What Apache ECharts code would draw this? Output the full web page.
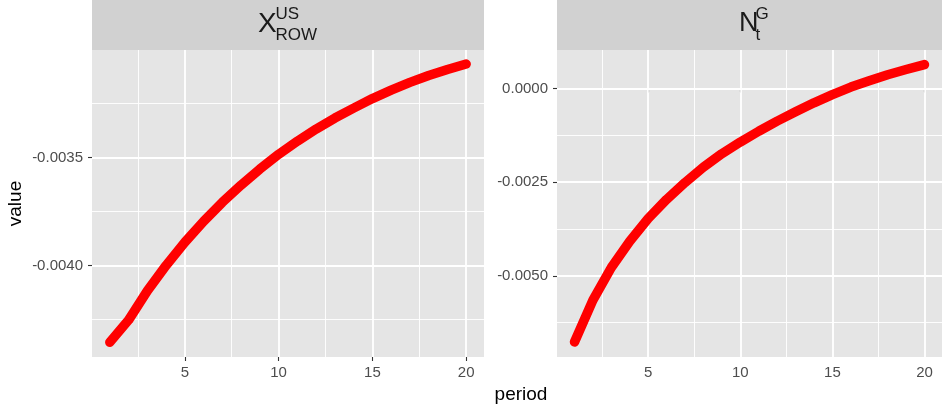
<!DOCTYPE html>
<html>
<head>
<meta charset="utf-8">
<script src="https://cdn.jsdelivr.net/npm/echarts@6/dist/echarts.min.js"></script>
<style>
  html, body { margin: 0; padding: 0; background: #ffffff; }
  #chart { width: 942px; height: 414px; }
</style>
</head>
<body>
<div id="chart"></div>
<script>
// Impulse responses by period, one facet per variable
const periods = [1, 2, 3, 4, 5, 6, 7, 8, 9, 10, 11, 12, 13, 14, 15, 16, 17, 18, 19, 20];

const xRowValues = [
  -0.004356, -0.004253, -0.004118, -0.004000, -0.003893,
  -0.003796, -0.003708, -0.003628, -0.003554, -0.003486,
  -0.003425, -0.003369, -0.003318, -0.003272, -0.003228,
  -0.003189, -0.003153, -0.003121, -0.003093, -0.003068
];

const nGValues = [
  -0.00677, -0.00565, -0.00478, -0.00408, -0.00347,
  -0.00296, -0.00251, -0.00210, -0.00174, -0.00143,
  -0.00114, -0.00087, -0.00062, -0.00038, -0.00016,
   0.00004,  0.00021,  0.00037,  0.00051,  0.00064
];

// Shared period axis
const periodRange = [0.05, 20.95];
const periodTicks = [5, 10, 15, 20];
const periodMinor = [2.5, 7.5, 12.5, 17.5];

// Value axes, one per facet
const xRowRange = [-0.004424, -0.003003];
const xRowTicks = [-0.0040, -0.0035];
const xRowMinor = [-0.00425, -0.00375, -0.00325];

const nGRange = [-0.00717, 0.00103];
const nGTicks = [-0.0050, -0.0025, 0];
const nGMinor = [-0.00625, -0.00375, -0.00125];

// Layout
const FONT = '"Liberation Sans", Arial, Helvetica, sans-serif';
const PANEL_TOP = 50, PANEL_H = 307, PANEL_W = 392, STRIP_H = 50;
const PANEL_LEFT = [92, 557];
const PANEL_BG = '#E5E5E5', STRIP_BG = '#D1D1D1';

function gridLines(xMinor, xMajor, yMinor, yMajor) {
  const minorStyle = { color: '#ffffff', width: 0.9, type: 'solid' };
  const majorStyle = { color: '#ffffff', width: 1.8, type: 'solid' };
  return [].concat(
    xMinor.map(v => ({ xAxis: v, lineStyle: minorStyle })),
    yMinor.map(v => ({ yAxis: v, lineStyle: minorStyle })),
    xMajor.map(v => ({ xAxis: v, lineStyle: majorStyle })),
    yMajor.map(v => ({ yAxis: v, lineStyle: majorStyle }))
  );
}

function xAxisFor(gridIndex) {
  return {
    type: 'value', gridIndex,
    min: periodRange[0], max: periodRange[1],
    splitLine: { show: false },
    axisLine: { show: false },
    axisTick: { show: true, customValues: periodTicks, length: 4, lineStyle: { color: '#333333', width: 1.1 } },
    axisLabel: { customValues: periodTicks, color: '#4D4D4D', fontSize: 15, fontFamily: FONT, margin: 8 }
  };
}

function yAxisFor(gridIndex, range, ticks) {
  return {
    type: 'value', gridIndex,
    min: range[0], max: range[1],
    splitLine: { show: false },
    axisLine: { show: false },
    axisTick: { show: true, customValues: ticks, length: 4, lineStyle: { color: '#333333', width: 1.1 } },
    axisLabel: {
      customValues: ticks, color: '#4D4D4D', fontSize: 15, fontFamily: FONT, margin: 9,
      formatter: v => v.toFixed(4)
    }
  };
}

function curve(idx, values) {
  return {
    type: 'line', xAxisIndex: idx, yAxisIndex: idx,
    data: periods.map((p, i) => [p, values[i]]),
    showSymbol: false, silent: true, z: 10,
    lineStyle: { color: '#FF0000', width: 9.5, cap: 'round', join: 'round' }
  };
}

function gridSeries(idx, yMinor, yMajor) {
  return {
    type: 'line', xAxisIndex: idx, yAxisIndex: idx, data: [], silent: true,
    markLine: {
      silent: true, symbol: ['none', 'none'], z: 1, animation: false,
      precision: 10,
      label: { show: false },
      emphasis: { disabled: true },
      data: gridLines(periodMinor, periodTicks, yMinor, yMajor)
    }
  };
}

const stripTitles = [
  { cx: PANEL_LEFT[0] + PANEL_W / 2, base: 'X', sup: 'US', sub: 'ROW', baseDx: -30, scriptDx: -12.5, baseSize: 28 },
  { cx: PANEL_LEFT[1] + PANEL_W / 2, base: 'N', sup: 'G', sub: 't', baseDx: -14, scriptDx: 2.5, baseSize: 27 }
];

const graphics = [];
PANEL_LEFT.forEach(left => {
  graphics.push({ type: 'rect', z: -1, shape: { x: left, y: 0, width: PANEL_W, height: STRIP_H }, style: { fill: STRIP_BG } });
});
stripTitles.forEach(s => {
  graphics.push({ type: 'text', x: s.cx + s.baseDx, y: 24, style: { text: s.base, font: s.baseSize + 'px ' + FONT, fill: '#1A1A1A', align: 'left', verticalAlign: 'middle' } });
  graphics.push({ type: 'text', x: s.cx + s.scriptDx, y: 14, style: { text: s.sup, font: '17px ' + FONT, fill: '#1A1A1A', align: 'left', verticalAlign: 'middle' } });
  graphics.push({ type: 'text', x: s.cx + s.scriptDx, y: 35, style: { text: s.sub, font: '17px ' + FONT, fill: '#1A1A1A', align: 'left', verticalAlign: 'middle' } });
});
graphics.push({ type: 'text', x: 521, y: 395, style: { text: 'period', font: '19px ' + FONT, fill: '#000000', align: 'center', verticalAlign: 'middle' } });
graphics.push({ type: 'text', x: 15.5, y: PANEL_TOP + PANEL_H / 2, rotation: Math.PI / 2, style: { text: 'value', font: '19px ' + FONT, fill: '#000000', align: 'center', verticalAlign: 'middle' } });

const option = {
  animation: false,
  backgroundColor: '#ffffff',
  grid: PANEL_LEFT.map(left => ({
    left: left, top: PANEL_TOP, width: PANEL_W, height: PANEL_H,
    show: true, backgroundColor: PANEL_BG, borderWidth: 0, containLabel: false
  })),
  xAxis: [xAxisFor(0), xAxisFor(1)],
  yAxis: [yAxisFor(0, xRowRange, xRowTicks), yAxisFor(1, nGRange, nGTicks)],
  graphic: graphics,
  series: [
    gridSeries(0, xRowMinor, xRowTicks),
    gridSeries(1, nGMinor, nGTicks),
    curve(0, xRowValues),
    curve(1, nGValues)
  ]
};

const chart = echarts.init(document.getElementById('chart'), null, { renderer: 'canvas' });
chart.setOption(option);
</script>
</body>
</html>
